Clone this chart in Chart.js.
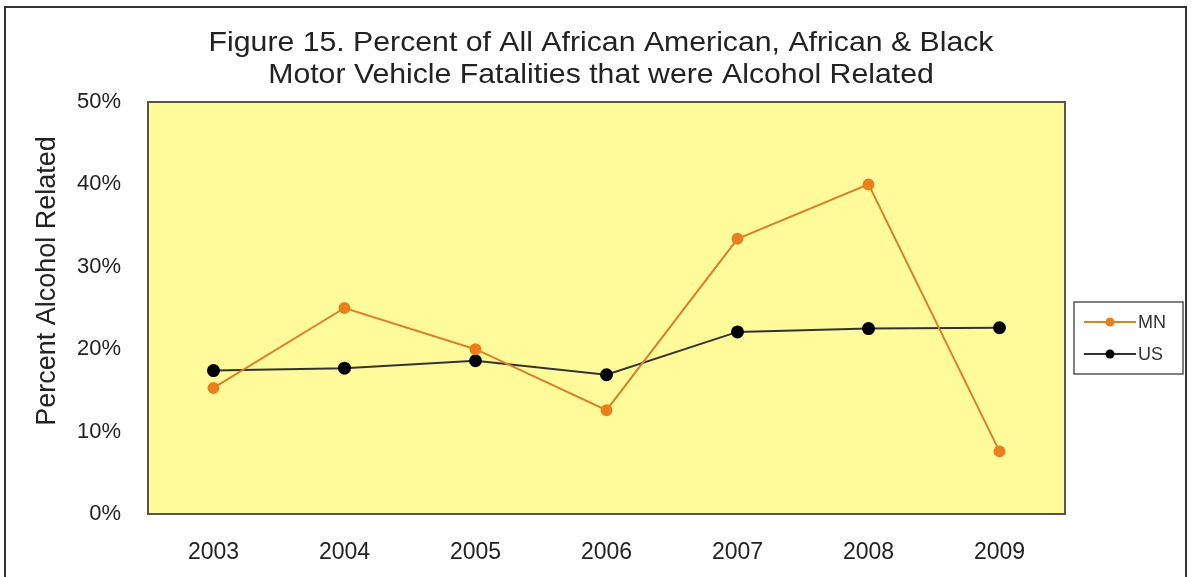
<!DOCTYPE html>
<html>
<head>
<meta charset="utf-8">
<script src="https://cdn.jsdelivr.net/npm/chart.js@4/dist/chart.umd.min.js"></script>
<style>
  html, body { margin: 0; padding: 0; background: #fff; }
  #frame {
    position: absolute; left: 4px; top: 6px; width: 1183px; height: 600px;
    border: 2px solid #333; border-bottom: none; box-sizing: border-box;
  }
  #wrap { position: absolute; left: 0; top: 0; width: 1193px; height: 577px; }
</style>
</head>
<body>
<div id="frame"></div>
<div id="wrap"><canvas id="chart" width="1193" height="577"></canvas></div>
<script>
const years = ["2003", "2004", "2005", "2006", "2007", "2008", "2009"];
const mnValues = [15.3, 25.0, 20.0, 12.6, 33.4, 40.0, 7.6];
const usValues = [17.4, 17.7, 18.6, 16.9, 22.1, 22.5, 22.6];
const titleLines = [
  "Figure 15. Percent of All African American, African & Black",
  "Motor Vehicle Fatalities that were Alcohol Related",
];
const yAxisTitle = "Percent Alcohol Related";

const fontFamily = "'Liberation Sans', Arial, sans-serif";

const plotBackground = {
  id: "plotBackground",
  beforeDraw(chart) {
    const { ctx, chartArea: a } = chart;
    ctx.save();
    ctx.fillStyle = "#FFFB9A";
    ctx.fillRect(a.left, a.top, a.right - a.left, a.bottom - a.top);
    ctx.restore();
  },
  afterDatasetsDraw(chart) {
    const { ctx, chartArea: a } = chart;
    ctx.save();
    ctx.strokeStyle = "#555";
    ctx.lineWidth = 2;
    ctx.strokeRect(a.left, a.top, a.right - a.left, a.bottom - a.top);
    ctx.restore();
  },
};

// title and y title drawn by hand, the original text is a bit stretched
const titleText = {
  id: "titleText",
  afterDraw(chart) {
    const { ctx } = chart;
    ctx.save();
    ctx.fillStyle = "#222";
    ctx.font = `28px ${fontFamily}`;
    ctx.textAlign = "center";
    ctx.textBaseline = "alphabetic";
    ctx.translate(601, 0);
    ctx.scale(1.08, 1);
    ctx.fillText(titleLines[0], 0, 51);
    ctx.fillText(titleLines[1], 0, 83);
    ctx.restore();

    ctx.save();
    ctx.fillStyle = "#222";
    ctx.font = `27px ${fontFamily}`;
    ctx.textAlign = "center";
    ctx.textBaseline = "middle";
    ctx.translate(48, 281);
    ctx.rotate(-Math.PI / 2);
    ctx.fillText(yAxisTitle, 0, 0);
    ctx.restore();
  },
};

const sideLegend = {
  id: "sideLegend",
  afterDraw(chart) {
    const { ctx } = chart;
    const box = { x: 1074, y: 302, w: 109, h: 72 };
    ctx.save();
    ctx.fillStyle = "#fff";
    ctx.fillRect(box.x, box.y, box.w, box.h);
    ctx.strokeStyle = "#555";
    ctx.lineWidth = 1.5;
    ctx.strokeRect(box.x, box.y, box.w, box.h);
    chart.data.datasets.forEach((ds, i) => {
      const y = box.y + 20 + i * 32;
      ctx.strokeStyle = ds.borderColor;
      ctx.lineWidth = 2;
      ctx.beginPath();
      ctx.moveTo(box.x + 10, y);
      ctx.lineTo(box.x + 62, y);
      ctx.stroke();
      ctx.fillStyle = ds.pointBackgroundColor;
      ctx.beginPath();
      ctx.arc(box.x + 36, y, 4.5, 0, Math.PI * 2);
      ctx.fill();
      ctx.fillStyle = "#333";
      ctx.font = `18px ${fontFamily}`;
      ctx.textAlign = "left";
      ctx.textBaseline = "middle";
      ctx.fillText(ds.label, box.x + 64, y + 1);
    });
    ctx.restore();
  },
};

new Chart(document.getElementById("chart"), {
  type: "line",
  data: {
    labels: years,
    datasets: [
      {
        label: "MN",
        data: mnValues,
        borderColor: "#D9812A",
        pointBackgroundColor: "#E8801E",
        pointBorderColor: "#E8801E",
        borderWidth: 2,
        pointRadius: 5,
        tension: 0,
      },
      {
        label: "US",
        data: usValues,
        borderColor: "#333",
        pointBackgroundColor: "#000",
        pointBorderColor: "#000",
        borderWidth: 2,
        pointRadius: 5.5,
        tension: 0,
      },
    ],
  },
  options: {
    responsive: false,
    animation: false,
    layout: { padding: { left: 0, top: 102, right: 128, bottom: 0 } },
    plugins: {
      legend: { display: false },
      title: { display: false },
      tooltip: { enabled: false },
    },
    scales: {
      x: {
        offset: true,
        grid: { display: false, drawTicks: false },
        border: { display: false },
        ticks: {
          color: "#222",
          font: { family: fontFamily, size: 23 },
          padding: 25,
        },
        afterFit: (scale) => { scale.height = 63; },
      },
      y: {
        min: 0,
        max: 50,
        grid: { display: false, drawTicks: false },
        border: { display: false },
        ticks: {
          stepSize: 10,
          color: "#222",
          font: { family: fontFamily, size: 22 },
          padding: 27,
          callback: (v) => `${v}%`,
        },
        afterFit: (scale) => { scale.width = 148; },
      },
    },
  },
  plugins: [plotBackground, titleText, sideLegend],
});
</script>
</body>
</html>
